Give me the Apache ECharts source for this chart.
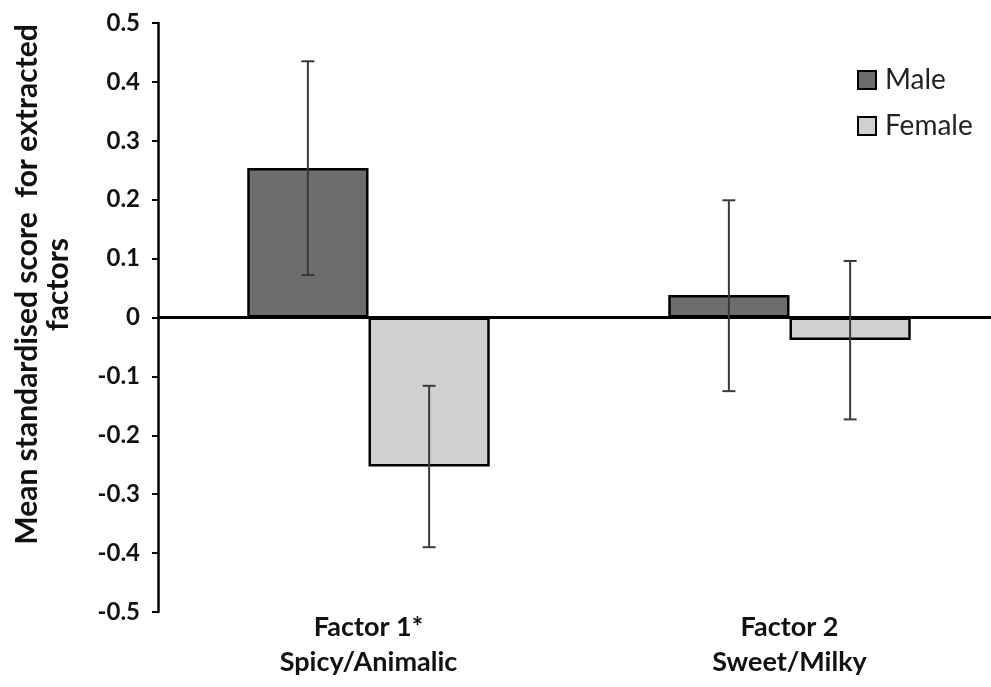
<!DOCTYPE html>
<html>
<head>
<meta charset="utf-8">
<script src="https://cdn.jsdelivr.net/npm/echarts@6/dist/echarts.min.js"></script>
<style>html,body{margin:0;padding:0;background:#fff;}#c{width:991px;height:687px;}</style>
</head>
<body>
<div id="c"></div>
<script>
var categories = ['Factor 1*\nSpicy/Animalic', 'Factor 2\nSweet/Milky'];
var maleMeans = [0.254, 0.038];
var femaleMeans = [-0.253, -0.038];
var maleLow = [0.072, -0.125];
var maleHigh = [0.435, 0.199];
var femaleLow = [-0.390, -0.173];
var femaleHigh = [-0.116, 0.096];
var yTicks = [-0.5, -0.4, -0.3, -0.2, -0.1, 0, 0.1, 0.2, 0.3, 0.4, 0.5];

var FONT = 'Lato';
var chart = echarts.init(document.getElementById('c'), null, {renderer: 'canvas'});

function errData(low, high) {
  return low.map(function (l, i) { return [i, l, high[i]]; });
}
function errSeries(name, low, high, offset) {
  return {
    type: 'custom',
    name: name + ' error',
    silent: true,
    z: 5,
    data: errData(low, high),
    renderItem: function (params, api) {
      var idx = api.value(0);
      var catW = api.size([1, 0])[0];
      var cx = api.coord([idx, 0])[0] + offset * catW;
      var yTop = api.coord([idx, api.value(2)])[1];
      var yBot = api.coord([idx, api.value(1)])[1];
      var hw = 6.5;
      var st = {stroke: '#3a3a3a', lineWidth: 2};
      return {
        type: 'group',
        children: [
          {type: 'line', shape: {x1: cx, y1: yTop, x2: cx, y2: yBot}, style: st},
          {type: 'line', shape: {x1: cx - hw, y1: yTop, x2: cx + hw, y2: yTop}, style: st},
          {type: 'line', shape: {x1: cx - hw, y1: yBot, x2: cx + hw, y2: yBot}, style: st}
        ]
      };
    }
  };
}

var option = {
  backgroundColor: '#ffffff',
  animation: false,
  grid: {left: 158, width: 842, top: 23, bottom: 75, containLabel: false, outerBoundsMode: 'none'},
  legend: {
    orient: 'vertical',
    left: 852,
    top: 61,
    itemWidth: 18,
    itemHeight: 18,
    itemGap: 18,
    icon: 'rect',
    data: ['Male', 'Female'],
    textStyle: {fontFamily: FONT, fontSize: 28, color: '#222', padding: [0, 0, 0, 4]},
    selectedMode: false
  },
  xAxis: {
    type: 'category',
    data: categories,
    axisLine: {show: false},
    axisTick: {show: false},
    axisLabel: {
      fontFamily: FONT, fontWeight: 'bold', fontSize: 27, color: '#111',
      lineHeight: 35, margin: -2, interval: 0
    }
  },
  yAxis: {
    type: 'value',
    min: -0.5, max: 0.5, interval: 0.1,
    name: 'Mean standardised score  for extracted\nfactors',
    nameLocation: 'middle',
    nameGap: 84,
    nameTextStyle: {
      fontFamily: FONT, fontWeight: 'bold', fontSize: 30, color: '#111',
      lineHeight: 31, padding: [0, 0, 0, 66]
    },
    axisLine: {show: true, lineStyle: {color: '#000', width: 2.5}},
    axisTick: {show: true, inside: false, length: 6, lineStyle: {color: '#000', width: 2}},
    axisLabel: {
      fontFamily: FONT, fontWeight: 'bold', fontSize: 24, color: '#111', margin: 18,
      formatter: function (v) {
        var r = Math.round(v * 10) / 10;
        return r === 0 ? '0' : r.toFixed(1);
      }
    },
    splitLine: {show: false}
  },
  series: [
    {
      name: 'Male', type: 'bar', data: maleMeans,
      barWidth: '28.8%', barGap: '0%',
      itemStyle: {color: '#6d6d6d', borderColor: '#000', borderWidth: 2.5},
      markLine: {
        silent: true, symbol: 'none', label: {show: false},
        lineStyle: {color: '#000', width: 3, type: 'solid'},
        data: [{yAxis: 0}]
      }
    },
    {
      name: 'Female', type: 'bar', data: femaleMeans,
      barWidth: '28.8%', barGap: '0%',
      itemStyle: {color: '#d0d0d0', borderColor: '#000', borderWidth: 2.5}
    },
    errSeries('Male', maleLow, maleHigh, -0.144),
    errSeries('Female', femaleLow, femaleHigh, 0.144)
  ]
};
chart.setOption(option);
</script>
</body>
</html>
